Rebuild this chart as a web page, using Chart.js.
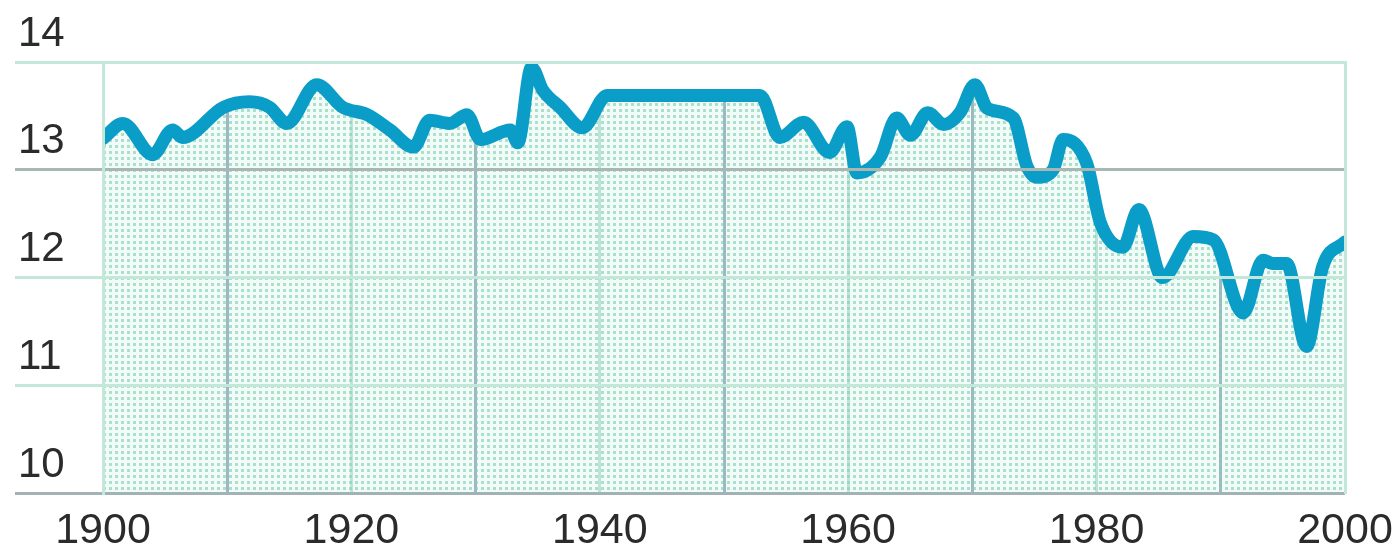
<!DOCTYPE html>
<html>
<head>
<meta charset="utf-8">
<script src="https://cdn.jsdelivr.net/npm/chart.js@4.4.0/dist/chart.umd.min.js"></script>
<style>
  html, body { margin: 0; padding: 0; background: #fff; }
  canvas { display: block; }
</style>
</head>
<body>
<canvas id="tempChart" width="1399" height="554"></canvas>
<script>
// years and values
var years = [1900, 1901.6, 1904, 1905.6, 1906.4, 1909.7, 1911.8, 1913.4, 1914.8, 1917.2,
             1919.3, 1921.3, 1923.1, 1925, 1926.3, 1927.9, 1929.3, 1930.4, 1932.8, 1933.4,
             1934.5, 1935.4, 1936.8, 1938.6, 1940.6, 1941.2, 1952.9, 1954.5, 1956.4, 1958.5,
             1959.9, 1960.7, 1962.6, 1963.9, 1965, 1966.4, 1967.7, 1969, 1970.2, 1971.2,
             1973.3, 1974.4, 1975.2, 1976.5, 1977.3, 1979.2, 1980.3, 1982.1, 1983.4, 1985.3,
             1987.8, 1989.4, 1991.8, 1993.4, 1994.2, 1995.3, 1996.9, 1998.2, 2000];
var values = [13.29, 13.43, 13.14, 13.37, 13.30, 13.58, 13.63, 13.58, 13.43, 13.79,
              13.58, 13.51, 13.37, 13.21, 13.46, 13.43, 13.51, 13.28, 13.37, 13.25,
              13.95, 13.74, 13.58, 13.39, 13.69, 13.69, 13.69, 13.30, 13.44, 13.16,
              13.40, 12.97, 13.12, 13.48, 13.32, 13.53, 13.42, 13.53, 13.79, 13.57,
              13.48, 13.03, 12.93, 13.00, 13.28, 13.06, 12.51, 12.28, 12.63, 12.00,
              12.38, 12.35, 11.67, 12.16, 12.13, 12.13, 11.36, 12.10, 12.33];

var yTicks = [10, 11, 12, 13, 14];
var xLabelYears = [1900, 1920, 1940, 1960, 1980, 2000];

var points = years.map(function (y, i) { return { x: y, y: values[i] }; });

// dotted mint fill under the line (see-through so the decade lines show)
function dotPattern() {
    var c = document.createElement('canvas');
    c.width = 6;
    c.height = 6;
    var g = c.getContext('2d');
    g.fillStyle = 'rgba(215, 242, 232, 0.3)';
    g.fillRect(0, 0, 6, 6);
    g.clearRect(1, 1, 3, 3);
    g.fillStyle = 'rgba(140, 215, 187, 0.75)';
    g.fillRect(1, 1, 3, 3);
    return g.createPattern(c, 'repeat');
}

var ctx = document.getElementById('tempChart').getContext('2d');

var mint = '#c3e7d9';
var darkGrid = '#8a9cb3';

new Chart(ctx, {
    type: 'line',
    data: {
        datasets: [
            {
                data: points,
                borderColor: '#0a9dc7',
                borderWidth: 13,
                borderJoinStyle: 'round',
                borderCapStyle: 'round',
                cubicInterpolationMode: 'monotone',
                pointRadius: 0,
                fill: 'start',
                backgroundColor: dotPattern(),
                order: 1
            },
            {
                // white above the line hides the vertical grid there
                data: points,
                borderWidth: 0,
                borderColor: 'rgba(0,0,0,0)',
                cubicInterpolationMode: 'monotone',
                pointRadius: 0,
                fill: 'end',
                backgroundColor: '#ffffff',
                order: 2
            }
        ]
    },
    options: {
        responsive: false,
        animation: false,
        devicePixelRatio: 1,
        layout: { padding: { left: 18, top: 62, right: 54, bottom: 0 } },
        plugins: {
            legend: { display: false },
            tooltip: { enabled: false }
        },
        scales: {
            x: {
                type: 'linear',
                min: 1900,
                max: 2000,
                grid: {
                    z: -1,
                    drawTicks: false,
                    lineWidth: 3,
                    color: function (c) {
                        var v = c.tick ? c.tick.value : 0;
                        if (v === 1900 || v === 2000) return 'rgba(0,0,0,0)';
                        return (v / 10) % 2 === 1 ? darkGrid : '#b2dfcf';
                    }
                },
                border: { display: false },
                ticks: {
                    stepSize: 10,
                    autoSkip: false,
                    maxRotation: 0,
                    padding: 12,
                    color: '#2b2b2b',
                    font: { family: 'Liberation Sans', size: 43 },
                    callback: function (v) {
                        return xLabelYears.indexOf(v) >= 0 ? String(v) : '';
                    }
                },
                afterFit: function (scale) {
                    scale.height = 61;
                    scale.paddingLeft = 0;
                    scale.paddingRight = 0;
                }
            },
            y: {
                position: 'left',
                min: 10,
                max: 14,
                afterBuildTicks: function (scale) {
                    scale.ticks = yTicks.map(function (v) { return { value: v }; });
                },
                grid: {
                    z: 1,
                    lineWidth: 3,
                    tickLength: 88,
                    color: function (c) {
                        var v = c.tick ? c.tick.value : 0;
                        if (v === 13) return '#a8b7b2';
                        if (v === 10) return '#a2b3b8';
                        return mint;
                    }
                },
                border: { display: true, color: mint, width: 3, z: 1 },
                ticks: {
                    crossAlign: 'far',
                    labelOffset: -28,
                    color: '#2b2b2b',
                    font: { family: 'Liberation Sans', size: 42 },
                    callback: function (v) { return String(v); }
                },
                afterFit: function (scale) { scale.width = 85; }
            },
            yRight: {
                axis: 'y',
                position: 'right',
                min: 10,
                max: 14,
                grid: { display: false, drawTicks: false },
                ticks: { display: false },
                border: { display: true, color: mint, width: 3, z: 1 },
                afterFit: function (scale) { scale.width = 0; }
            }
        }
    }
});
</script>
</body>
</html>
